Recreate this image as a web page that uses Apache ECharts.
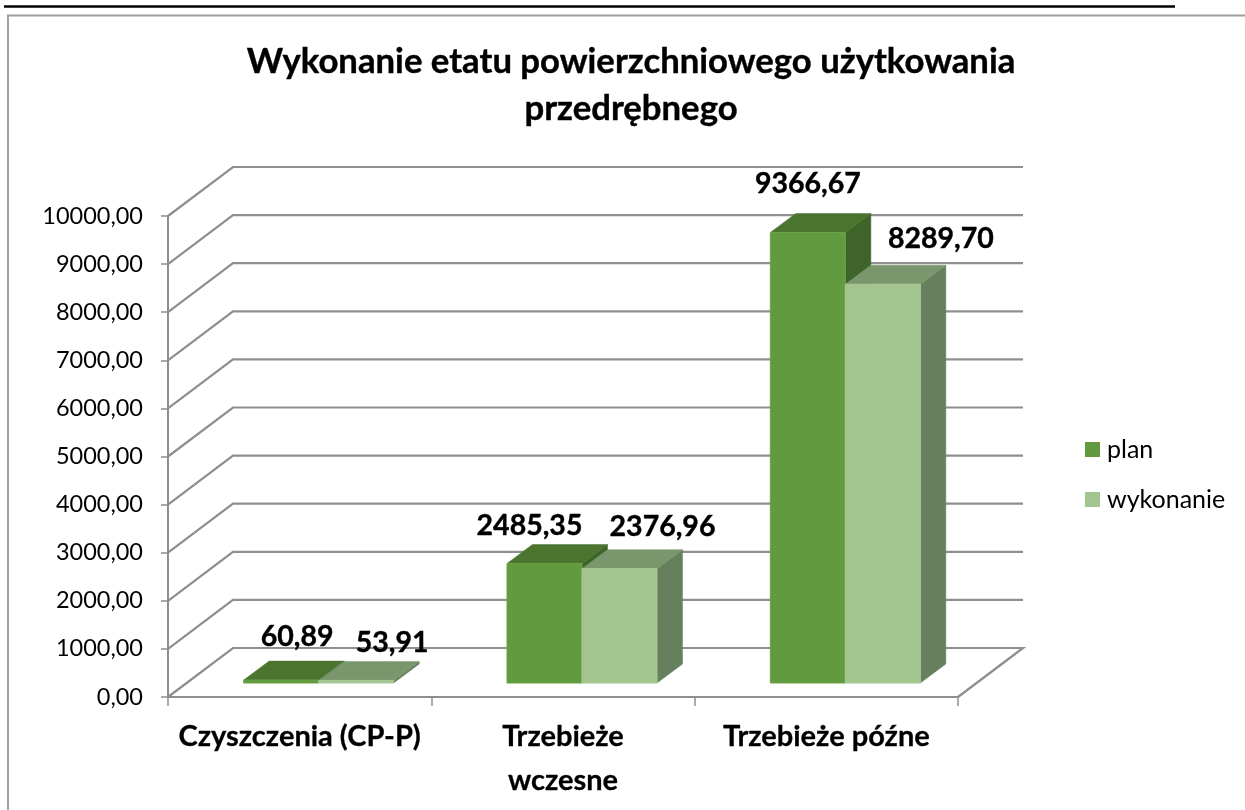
<!DOCTYPE html>
<html><head><meta charset="utf-8">
<style>html,body{margin:0;padding:0;background:#fff}#c{width:1245px;height:810px}</style>
<script src="https://cdn.jsdelivr.net/npm/echarts@6/dist/echarts.min.js"></script>
</head><body><div id="c"></div>
<script>
const categories = ['Czyszczenia (CP-P)', 'Trzebieże\nwczesne', 'Trzebieże późne'];
const planValues = [60.89, 2485.35, 9366.67];
const wykonanieValues = [53.91, 2376.96, 8289.70];
const planLabels = ['60,89', '2485,35', '9366,67'];
const wykonanieLabels = ['53,91', '2376,96', '8289,70'];
const gridValues = [0,1000,2000,3000,4000,5000,6000,7000,8000,9000,10000];

const FONT = 'Lato';
const WALL = [65, -49];     // floor depth in px
const BAR_DEPTH = [25.5, -19]; // bar depth in px
const BAR_SHIFT = [19, -14];  // bar front set back from the axis plane
const BAR_W = 75;
const planOffsets = [[16,-43],[-15,-38],[0,-49]];
const wykOffsets = [[36,-38],[43,-42],[58,-45]];

function barSeries(name, values, labels, offsets, side, cols) {
  return {
    name, type: 'custom', coordinateSystem: 'cartesian2d', z: 5,
    itemStyle: {color: cols.front},
    data: values.map((v, i) => [i, v]),
    renderItem(params, api) {
      const base = api.coord([api.value(0), 0]);
      const top = api.coord([api.value(0), api.value(1)]);
      const x0 = base[0] + BAR_SHIFT[0] + (side < 0 ? -BAR_W : 0);
      const x1 = x0 + BAR_W;
      const yb = base[1] + BAR_SHIFT[1];
      const yt = top[1] + BAR_SHIFT[1];
      const dx = BAR_DEPTH[0], dy = BAR_DEPTH[1];
      const poly = (pts, fill) => ({type:'polygon', shape:{points:pts},
        style:{fill, stroke:fill, lineWidth:0.5}});
      const off = offsets[params.dataIndex];
      return {type:'group', children:[
        poly([[x1,yb],[x1+dx,yb+dy],[x1+dx,yt+dy],[x1,yt]], cols.side),
        poly([[x0,yt],[x1,yt],[x1+dx,yt+dy],[x0+dx,yt+dy]], cols.top),
        {type:'rect', shape:{x:x0,y:yt,width:BAR_W,height:yb-yt},
          style:{fill:cols.front, stroke:cols.edge, lineWidth:1}},
        {type:'text', z2:50, style:{text:labels[params.dataIndex], x:(x0+x1)/2+off[0], y:yt+off[1],
          align:'center', verticalAlign:'middle',
          font:'bold 28.5px '+FONT, fill:'#000', stroke:'#000', lineWidth:0.4}}
      ]};
    }
  };
}

const option = {
  animation:false,
  backgroundColor:'#fff',
  textStyle:{fontFamily:FONT},
  title:{text:'Wykonanie etatu powierzchniowego użytkowania\nprzedrębnego', left:626, top:33, textAlign:'center',
    textStyle:{fontFamily:FONT,fontWeight:'bold',fontSize:34.7,lineHeight:47,color:'#000',textBorderColor:'#000',textBorderWidth:0.4}},
  legend:{orient:'vertical', left:1080, top:432, itemWidth:15, itemHeight:15, itemGap:25, icon:'rect',
    data:['plan','wykonanie'],
    textStyle:{fontFamily:FONT,fontSize:25,color:'#000',padding:[0,0,0,2]}},
  grid:{left:168, right:287, top:216, bottom:113},
  xAxis:{type:'category', data:categories, boundaryGap:true,
    axisLine:{lineStyle:{color:'#8e8e8e',width:2}},
    axisTick:{show:true,length:9,lineStyle:{color:'#8e8e8e',width:1.5}},
    axisLabel:{fontFamily:FONT,fontSize:29,fontWeight:'bold',color:'#000',margin:18,lineHeight:44,interval:0,
      textBorderColor:'#000',textBorderWidth:0.3}},
  yAxis:{type:'value', min:0, max:10000, interval:1000,
    axisLine:{show:true,lineStyle:{color:'#8e8e8e',width:2}},
    axisTick:{show:true,length:7,lineStyle:{color:'#8e8e8e',width:1.5}},
    splitLine:{show:false},
    axisLabel:{fontFamily:FONT,fontSize:23.5,color:'#000',margin:25,
      formatter:v=>v.toFixed(2).replace('.',',')}},
  graphic:[
    {type:'line',silent:true,shape:{x1:4,y1:6.5,x2:1175,y2:6.5},style:{stroke:'#000',lineWidth:2.5}},
    {type:'polyline',silent:true,shape:{points:[[8,810],[8,15.5],[1245,15.5]]},style:{stroke:'#a0a0a0',lineWidth:2,fill:null}}
  ],
  series:[
    {name:'walls', type:'custom', coordinateSystem:'cartesian2d', z:1, silent:true,
      data:gridValues.map(v=>[0,v]),
      renderItem(params, api){
        const p = api.coord([0, api.value(1)]);
        const x0 = api.coord([0,0])[0] - (api.size([1,0])[0])/2;
        const x1 = x0 + api.size([1,0])[0]*3;
        const lw = {stroke:'#8e8e8e', lineWidth:2.2, fill:null};
        const back = p[1] + WALL[1];
        const pts = [[x0,p[1]],[x0+WALL[0],back],[x1+WALL[0],back]];
        if (api.value(1) === 0) pts.push([x1,p[1]]);
        return {type:'polyline', shape:{points:pts}, style:lw};
      }},
    barSeries('plan', planValues, planLabels, planOffsets, -1,
      {front:'#629A3F', top:'#4B752F', side:'#3F6429', edge:'#6BA347'}),
    barSeries('wykonanie', wykonanieValues, wykonanieLabels, wykOffsets, 1,
      {front:'#A2C48F', top:'#7A966D', side:'#667F5C', edge:'#A9CA96'})
  ]
};
const chart = echarts.init(document.getElementById('c'), null, {renderer:'canvas'});
chart.setOption(option);
</script></body></html>
